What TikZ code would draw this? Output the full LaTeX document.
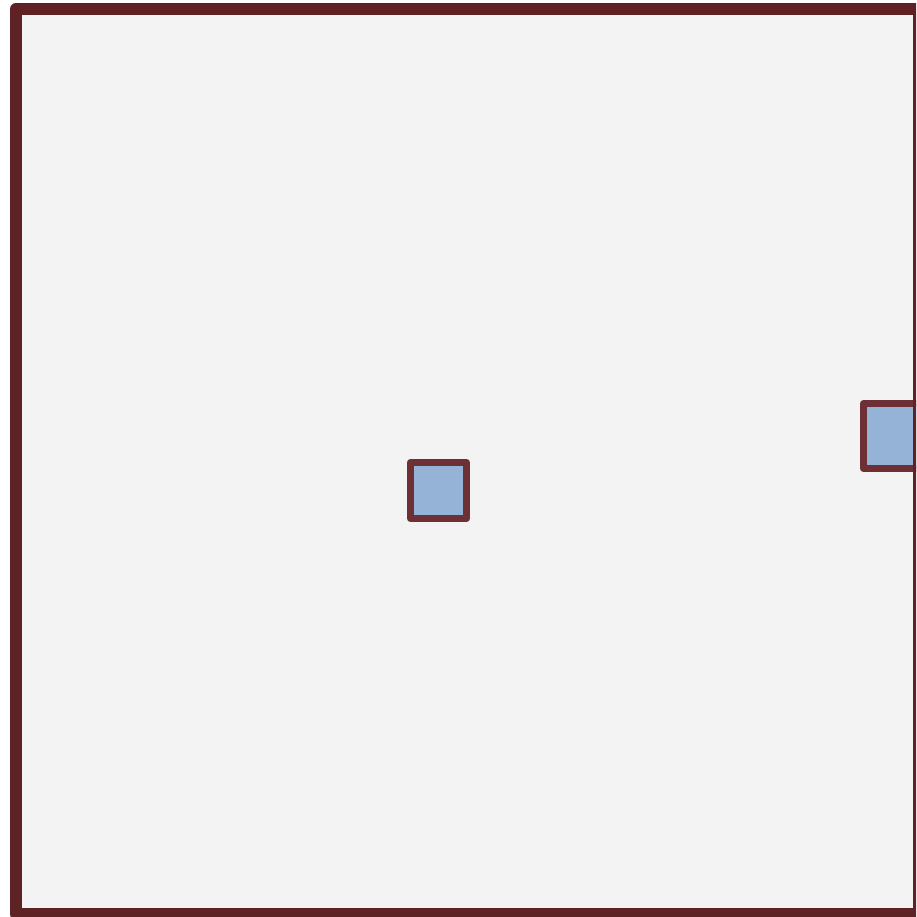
\documentclass[tikz,border=0pt]{standalone}
\definecolor{framecol}{HTML}{5E2224}
\definecolor{boxedge}{HTML}{6C3035}
\definecolor{boxfill}{HTML}{95B3D7}
\definecolor{bgfill}{HTML}{F3F3F3}
\tikzset{
  cell/.style={draw=boxedge, fill=boxfill, line width=7pt, line join=round,
    inner sep=0pt, outer sep=0pt, minimum width=#1, minimum height=#1, anchor=north west},
  framebox/.style={draw=framecol, line width=12pt, line join=round}
}
\begin{document}
\begin{tikzpicture}[x=1pt,y=-1pt]
\useasboundingbox (0,0) rectangle (916,917);
\clip (0,0) rectangle (916,917);
\fill[bgfill] (16,9) rectangle (919,914);
\node[cell=56pt] (c1) at (410.5,462.5) {};
\node[cell=65pt] (c2) at (863.5,403.5) {};
\draw[framebox] (16,9) rectangle (919,914);
\end{tikzpicture}
\end{document}
